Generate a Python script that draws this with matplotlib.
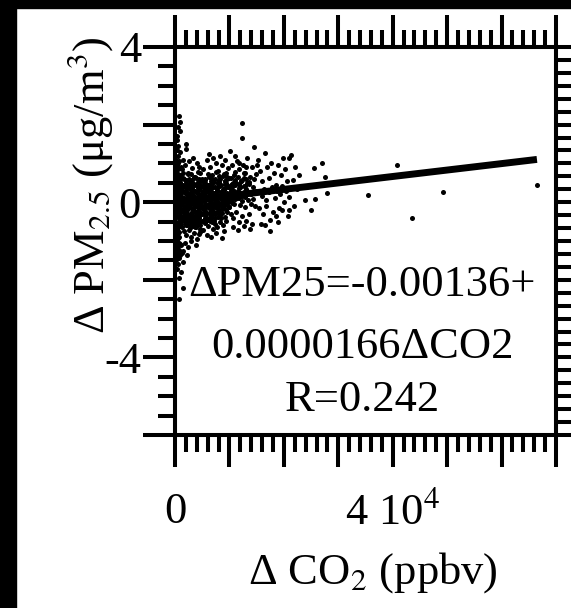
import matplotlib
matplotlib.use("Agg")
import matplotlib.pyplot as plt
import matplotlib.ticker as mticker
from matplotlib.patches import Rectangle
import numpy as np

plt.rcParams["font.family"] = ["Liberation Serif", "DejaVu Serif"]
plt.rcParams["mathtext.fontset"] = "stix"

# (delta CO2 in 10^3 ppbv, delta PM2.5 in ug/m3), grouped by CO2 range
pts_near_zero = [
    (0.8, 2.22), (0.9, 2.06), (0.9, 1.84), (0.4, 1.6), (0.6, 1.45), (0.3, 1.35),
    (1.0, 1.3), (0.5, 1.2), (0.2, 1.1), (0.8, 1.05), (0.4, 0.95), (1.1, 0.9),
    (0.6, 0.85), (0.2, 0.78), (0.9, 0.7), (0.4, 0.62), (0.7, 0.55), (0.2, 0.48),
    (1.0, 0.42), (0.5, 0.36), (0.3, 0.28), (0.8, 0.22), (0.1, 0.15), (0.6, 0.1),
    (0.3, 0.03), (0.9, -0.02), (0.2, -0.08), (0.5, -0.15), (0.8, -0.22), (0.1, -0.28),
    (0.4, -0.35), (0.7, -0.42), (0.2, -0.5), (1.0, -0.56), (0.5, -0.63), (0.3, -0.7),
    (0.8, -0.78), (0.1, -0.85), (0.6, -0.92), (0.4, -1.0), (0.9, -1.07), (0.2, -1.15),
    (0.7, -1.22), (0.5, -1.3), (1.2, -1.3), (0.3, -1.38), (0.8, -1.45), (1.5, -1.55),
    (0.6, -1.6), (0.4, -1.72), (1.1, -1.8), (0.7, -1.95), (1.5, -2.2), (0.7, -2.5),
    (0.3, 1.7), (0.6, 1.95), (0.2, 0.9), (0.5, 0.72), (0.3, -0.95), (0.6, -1.12),
    (0.2, -1.5), (0.9, -1.35), (0.4, 0.55), (0.9, 0.3), (0.3, -0.6), (0.8, -0.9),
    (0.5, 1.02), (0.9, 0.88), (0.3, 0.45), (0.7, 0.12), (0.4, -0.22), (0.9, -0.48),
    (0.5, -0.8), (0.2, -1.02), (0.7, -1.05), (0.4, -1.25), (1.1, -1.1), (0.6, 0.68),
]
pts_core = [
    (1.4, 0.63), (2.5, 0.6), (3.7, 0.66), (5.0, 0.61), (6.2, 0.64), (7.4, 0.6),
    (8.8, 0.67), (10.3, 0.62), (11.6, 0.65), (13.1, 0.6),
    (0.9, 0.52), (2.0, 0.55), (3.1, 0.5), (4.3, 0.53), (5.6, 0.5), (6.7, 0.55),
    (8.0, 0.51), (9.2, 0.54), (10.7, 0.5), (12.2, 0.55), (13.6, 0.52),
    (1.5, 0.44), (2.6, 0.41), (3.8, 0.45), (4.9, 0.42), (6.1, 0.44), (7.3, 0.4),
    (8.5, 0.45), (9.8, 0.42), (11.1, 0.44), (12.6, 0.41),
    (0.6, 0.34), (1.1, 0.33), (2.2, 0.36), (3.3, 0.32), (4.4, 0.35), (5.5, 0.33),
    (6.6, 0.36), (7.8, 0.32), (9.0, 0.35), (10.3, 0.33), (11.7, 0.36), (13.0, 0.33),
    (1.6, 0.25), (2.7, 0.23), (3.9, 0.26), (5.0, 0.24), (6.1, 0.27), (7.2, 0.23),
    (8.4, 0.26), (9.6, 0.24), (10.9, 0.27), (12.3, 0.24),
    (0.7, 0.16), (1.2, 0.14), (2.3, 0.17), (3.4, 0.15), (4.5, 0.18), (5.6, 0.14),
    (6.7, 0.17), (7.9, 0.15), (9.1, 0.18), (10.4, 0.15), (11.6, 0.17), (12.9, 0.14),
    (1.7, 0.07), (2.8, 0.05), (3.9, 0.08), (5.1, 0.06), (6.2, 0.09), (7.3, 0.05),
    (8.5, 0.08), (9.7, 0.06), (11.0, 0.08),
    (0.5, -0.02), (1.1, -0.04), (2.3, -0.01), (3.4, -0.03), (4.6, 0.0), (5.7, -0.04),
    (6.8, -0.01), (8.0, -0.03), (9.2, 0.0), (10.5, -0.02),
    (1.6, -0.11), (2.8, -0.13), (3.9, -0.1), (5.1, -0.12), (6.3, -0.09), (7.4, -0.13),
    (8.6, -0.1), (9.9, -0.12),
    (0.7, -0.2), (1.2, -0.22), (2.2, -0.19), (3.3, -0.21), (4.5, -0.18), (5.6, -0.22),
    (6.8, -0.2), (8.0, -0.21), (9.3, -0.19),
    (1.7, -0.29), (2.7, -0.31), (3.8, -0.28), (5.0, -0.3), (6.2, -0.27), (7.3, -0.31),
    (8.6, -0.29),
    (0.5, -0.38), (1.1, -0.4), (2.2, -0.37), (3.3, -0.39), (4.4, -0.36), (5.6, -0.4),
    (6.7, -0.38), (7.9, -0.39),
    (1.6, -0.47), (2.7, -0.49), (3.8, -0.46), (5.0, -0.48), (6.1, -0.45), (7.2, -0.49),
    (0.8, -0.56), (2.2, -0.58), (3.3, -0.55), (4.5, -0.57), (5.6, -0.54),
    (1.3, -0.65), (2.7, -0.67), (3.9, -0.64),
    (1.5, 0.75), (3.0, 0.72), (4.6, 0.76), (6.0, 0.73), (7.6, 0.77), (9.3, 0.74),
    (11.0, 0.78), (12.7, 0.75),
]
pts_core_fill = [
    (2.0, 0.58), (3.1, 0.56), (4.4, 0.59), (5.6, 0.57), (6.8, 0.58), (8.1, 0.56),
    (9.5, 0.59), (11.0, 0.57), (12.4, 0.58),
    (1.0, 0.48), (2.1, 0.47), (3.2, 0.49), (4.4, 0.46), (5.5, 0.48), (6.7, 0.47),
    (7.9, 0.49), (9.2, 0.46), (10.4, 0.48), (11.8, 0.47), (13.2, 0.49),
    (0.9, 0.39), (2.0, 0.38), (3.2, 0.4), (4.3, 0.37), (5.5, 0.39), (6.7, 0.38),
    (7.9, 0.4), (9.2, 0.37), (10.5, 0.39), (12.0, 0.38),
    (1.0, 0.29), (2.1, 0.3), (3.3, 0.28), (4.4, 0.31), (5.6, 0.29), (6.7, 0.3),
    (7.8, 0.28), (9.0, 0.31), (10.2, 0.29), (11.6, 0.3), (12.8, 0.28),
    (0.9, 0.2), (2.0, 0.21), (3.1, 0.19), (4.3, 0.22), (5.4, 0.2), (6.6, 0.21),
    (7.8, 0.19), (9.0, 0.22), (10.2, 0.2), (11.4, 0.21),
    (1.1, 0.11), (2.2, 0.1), (3.3, 0.12), (4.5, 0.1), (5.6, 0.11), (6.8, 0.1),
    (7.9, 0.12), (9.1, 0.1), (10.3, 0.11), (11.7, 0.1),
    (0.9, 0.02), (2.0, 0.03), (3.1, 0.01), (4.3, 0.03), (5.4, 0.02), (6.5, 0.03),
    (7.7, 0.01), (8.9, 0.03), (10.0, 0.02),
    (1.0, -0.07), (2.2, -0.06), (3.4, -0.08), (4.5, -0.06), (5.7, -0.07), (6.8, -0.06),
    (8.0, -0.08), (9.2, -0.07),
    (1.0, -0.16), (2.1, -0.15), (3.3, -0.17), (4.4, -0.15), (5.6, -0.16), (6.7, -0.15),
    (7.9, -0.17), (9.0, -0.16),
    (0.9, -0.25), (2.1, -0.24), (3.2, -0.26), (4.4, -0.24), (5.5, -0.25), (6.7, -0.24),
    (7.9, -0.26),
    (1.0, -0.34), (2.2, -0.33), (3.3, -0.35), (4.4, -0.33), (5.6, -0.34), (6.8, -0.33),
    (8.1, -0.35),
    (1.0, -0.43), (2.1, -0.42), (3.2, -0.44), (4.4, -0.42), (5.5, -0.43), (6.6, -0.42),
    (1.1, -0.52), (2.2, -0.51), (3.4, -0.53), (4.5, -0.51), (5.5, -0.52),
    (0.8, -0.61), (2.0, -0.6), (3.3, -0.62), (4.6, -0.6),
]
pts_1_5k = [
    (1.3, 0.85), (1.6, 0.6), (2.0, 1.49), (2.1, 1.38), (1.8, 0.95), (2.4, 0.72),
    (2.7, 0.5), (3.1, 0.88), (3.4, 0.64), (3.8, 0.45), (4.2, 0.78), (4.6, 0.55),
    (1.4, 0.4), (1.9, 0.3), (2.3, 0.22), (2.8, 0.35), (3.2, 0.18), (3.6, 0.28),
    (4.1, 0.12), (4.5, 0.33), (4.9, 0.2), (1.2, 0.05), (1.7, 0.12), (2.2, -0.02),
    (2.6, 0.08), (3.0, -0.05), (3.5, 0.02), (3.9, -0.1), (4.4, 0.05), (4.8, -0.04),
    (1.5, -0.18), (2.0, -0.25), (2.5, -0.15), (2.9, -0.3), (3.3, -0.2), (3.7, -0.35),
    (4.0, -0.22), (4.3, -0.4), (4.7, -0.28), (1.3, -0.45), (1.8, -0.55), (2.2, -0.42),
    (2.7, -0.6), (3.1, -0.5), (3.6, -0.65), (4.1, -0.55), (4.6, -0.7), (1.6, -0.75),
    (2.1, -0.85), (2.5, -0.72), (3.0, -0.9), (3.4, -0.8), (4.0, -0.95), (4.5, -0.82),
    (1.9, -1.05), (2.4, -1.15), (2.9, -1.0), (3.8, -1.1), (4.6, -0.78), (2.6, 1.05),
    (3.3, 1.15), (1.5, 1.1), (4.0, 1.0), (4.4, 0.92), (1.1, 0.62), (1.4, -1.25),
    (2.2, -1.35), (3.5, 0.48), (2.0, 0.55), (4.8, 0.4), (1.2, 0.25), (3.9, 0.62),
    (2.3, 0.75), (1.7, -0.35), (2.8, -0.42), (3.9, -0.48), (4.9, -0.15), (1.0, -0.62),
    (4.2, -0.02), (3.2, 0.38),
]
pts_5_10k = [
    (5.2, 0.85), (5.5, 0.6), (5.8, 1.1), (6.1, 0.45), (6.4, 0.9), (6.8, 0.7),
    (7.2, 0.52), (7.5, 1.02), (7.9, 0.8), (8.3, 0.6), (8.6, 0.95), (9.0, 0.72),
    (9.4, 0.5), (9.8, 0.88), (5.1, 0.3), (5.6, 0.18), (6.0, 0.35), (6.5, 0.22),
    (6.9, 0.4), (7.3, 0.15), (7.7, 0.3), (8.1, 0.42), (8.5, 0.25), (8.9, 0.35),
    (9.3, 0.2), (9.7, 0.4), (5.3, 0.02), (5.9, 0.08), (6.3, -0.05), (6.7, 0.1),
    (7.1, -0.02), (7.6, 0.05), (8.0, -0.08), (8.4, 0.12), (8.8, 0.0), (9.2, 0.08),
    (9.6, -0.05), (5.4, -0.2), (5.7, -0.3), (6.2, -0.15), (6.6, -0.35), (7.0, -0.22),
    (7.4, -0.4), (7.8, -0.25), (8.2, -0.32), (8.7, -0.18), (9.1, -0.38), (9.5, -0.25),
    (9.9, -0.12), (5.5, -0.5), (6.0, -0.62), (6.4, -0.48), (6.9, -0.7), (7.3, -0.55),
    (7.8, -0.65), (8.3, -0.52), (8.8, -0.6), (9.4, -0.48), (5.8, -0.85), (6.7, -0.9),
    (8.7, -0.91), (7.6, -0.8), (9.0, -0.75), (5.2, -0.72), (6.3, 1.25), (7.0, 1.15),
    (8.2, 1.2), (9.2, 1.1), (5.0, 0.55), (6.6, 0.62), (8.0, 0.68), (9.6, 0.65),
    (5.9, -0.4), (7.5, -0.1), (9.8, 0.15), (6.8, -0.5), (8.5, -0.42), (5.6, 0.42),
    (7.9, 0.5), (9.1, 0.55),
]
pts_10_15k = [
    (10.1, 1.31), (10.5, 0.95), (10.9, 0.7), (11.3, 1.05), (11.7, 0.85), (12.1, 0.55),
    (12.5, 0.95), (12.9, 0.75), (13.3, 1.15), (13.7, 0.65), (14.1, 0.9), (14.5, 1.43),
    (14.8, 0.72), (10.3, 0.45), (10.8, 0.3), (11.2, 0.5), (11.6, 0.2), (12.0, 0.38),
    (12.4, 0.15), (12.8, 0.42), (13.2, 0.28), (13.6, 0.48), (14.0, 0.2), (14.4, 0.4),
    (14.9, 0.3), (10.4, 0.05), (10.9, -0.05), (11.4, 0.1), (11.9, -0.08), (12.3, 0.02),
    (12.8, -0.12), (13.4, 0.05), (13.9, -0.05), (14.3, 0.08), (14.7, -0.1), (10.2, -0.3),
    (10.7, -0.42), (11.2, -0.25), (11.8, -0.5), (12.4, -0.35), (13.0, -0.48), (13.6, -0.3),
    (14.2, -0.55), (10.6, -0.65), (11.5, -0.72), (12.7, -0.62), (13.8, -0.7), (12.3, 2.05),
    (12.4, 1.65), (11.0, 1.2), (13.0, 0.9), (14.6, 0.6), (10.0, 0.62), (12.6, 0.62),
    (11.8, 1.0),
]
pts_15_20k = [
    (15.2, 1.1), (15.6, 0.8), (16.0, 0.55), (16.5, 1.26), (16.9, 0.9), (17.3, 0.62),
    (17.7, 1.0), (18.1, 0.75), (18.6, 0.45), (19.0, 0.95), (19.4, 0.7), (19.8, 1.14),
    (15.3, 0.3), (15.9, 0.15), (16.4, 0.35), (16.8, 0.05), (17.2, 0.25), (17.8, 0.4),
    (18.3, 0.12), (18.8, 0.3), (19.3, 0.2), (19.7, 0.42), (15.5, -0.15), (16.2, -0.3),
    (16.7, -0.1), (17.5, -0.45), (17.5, -0.74), (18.0, -0.25), (18.5, -0.35), (19.1, -0.15),
    (19.6, -0.2), (15.8, -0.55), (16.6, -0.6), (18.9, -0.5), (15.0, 0.95),
]
pts_20_24k = [
    (20.2, 0.85), (20.6, 0.55), (21.0, 1.13), (21.4, 1.21), (21.6, 0.58), (21.0, 0.14),
    (21.0, -0.2), (20.4, 0.3), (20.8, -0.35), (22.0, 0.9), (22.5, 0.35), (23.8, 0.06),
    (20.1, 0.0), (22.8, 0.7), (21.8, -0.1),
]
pts_far = [
    (25.0, -0.2), (25.6, 0.88), (25.7, 0.09), (27.0, 1.02), (27.5, 0.64), (28.0, 0.23),
    (35.5, 0.18), (40.7, 0.95), (43.6, -0.42), (49.3, 0.25), (66.5, 0.44),
]

fit_intercept = -0.00136
fit_slope = 0.0000166
fit_r = 0.242

xticks_labeled = {0: "0", 40000: "4 10$^{4}$"}
yticks_labeled = {4: "4", 0: "0", -4: "-4"}

all_pts = np.array(pts_near_zero + pts_core + pts_core_fill + pts_1_5k + pts_5_10k
                   + pts_10_15k + pts_15_20k + pts_20_24k + pts_far)
co2 = all_pts[:, 0] * 1000.0
pm = all_pts[:, 1]

fig = plt.figure(figsize=(5.71, 6.08), dpi=100)
fig.patch.set_facecolor("white")
ax = fig.add_axes([175 / 571, 1 - 435 / 608, 381 / 571, 388 / 608])

ax.scatter(co2, pm, s=13, color="black", linewidths=0, zorder=2)

xfit = np.array([0.0, co2.max()])
ax.plot(xfit, fit_intercept + fit_slope * xfit, color="black", lw=5,
        solid_capstyle="butt", zorder=3)

ax.set_xlim(0, 70000)
ax.set_ylim(-6, 4)

ax.xaxis.set_major_locator(mticker.MultipleLocator(10000))
ax.xaxis.set_minor_locator(mticker.MultipleLocator(2000))
ax.yaxis.set_major_locator(mticker.MultipleLocator(2))
ax.yaxis.set_minor_locator(mticker.MultipleLocator(0.5))
ax.xaxis.set_major_formatter(mticker.FuncFormatter(
    lambda v, p: xticks_labeled.get(int(round(v)), "")))
ax.yaxis.set_major_formatter(mticker.FuncFormatter(
    lambda v, p: yticks_labeled.get(int(round(v)), "") if abs(v - round(v)) < 1e-6 else ""))

for s in ax.spines.values():
    s.set_linewidth(2.9)

ax.tick_params(which="both", direction="out", width=2.9, top=True, right=False,
               labelsize=32)
ax.tick_params(which="major", length=23)
ax.tick_params(which="minor", length=12)
ax.tick_params(axis="y", which="major", pad=1.5)
ax.tick_params(axis="x", which="major", pad=18)

# mirror axis on the right with its own, finer ticks
axr = ax.twinx()
axr.set_ylim(-6, 4)
axr.yaxis.set_major_locator(mticker.MultipleLocator(1 / 3))
axr.yaxis.set_minor_locator(mticker.NullLocator())
axr.tick_params(axis="y", direction="out", length=11, width=2.9, labelright=False)
for s in axr.spines.values():
    s.set_linewidth(2.9)

# regression text
eq_lines = ["ΔPM25=-0.00136+", "0.0000166ΔCO2", "R=%.3f" % fit_r]
eq_y = [0.387, 0.227, 0.09]
for line, yy in zip(eq_lines, eq_y):
    ax.text(0.491, yy, line, transform=ax.transAxes,
            ha="center", va="center", fontsize=32, zorder=4)

fig.text(90 / 571, 1 - 185 / 608, r"Δ PM$_{\mathrm{2.5}}$ (μg/m$^{3}$)", rotation=90,
         ha="center", va="center", fontsize=32)
fig.text(373 / 571, 1 - 573 / 608, r"Δ CO$_{\mathrm{2}}$ (ppbv)",
         ha="center", va="center", fontsize=32)

# black strips along the top and left edges
fig.add_artist(Rectangle((0, 1 - 8 / 608), 1, 8 / 608, transform=fig.transFigure,
                         color="black", zorder=10))
fig.add_artist(Rectangle((0, 0), 16 / 571, 1, transform=fig.transFigure,
                         color="black", zorder=10))

fig.savefig("out.png", dpi=100, facecolor="white")
